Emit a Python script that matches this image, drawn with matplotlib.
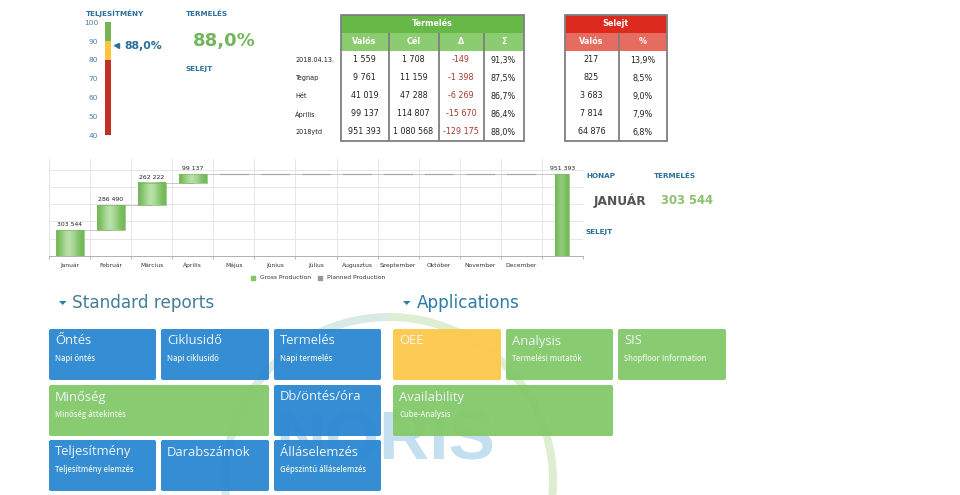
import numpy as np
import matplotlib
matplotlib.use("Agg")
import matplotlib.pyplot as plt
from matplotlib.patches import Rectangle, FancyBboxPatch, Wedge, Polygon

# ---------- data ----------
gauge_bands = [(40, 80), (80, 90), (90, 100)]
gauge_ticks = [40, 50, 60, 70, 80, 90, 100]
gauge_value = 88.0
gauge_text = "88,0%"

row_labels = ["2018.04.13.", "Tegnap", "Hét", "Április", "2018ytd"]
prod_headers = ["Valós", "Cél", "Δ", "Σ"]
prod_actual = ["1 559", "9 761", "41 019", "99 137", "951 393"]
prod_target = ["1 708", "11 159", "47 288", "114 807", "1 080 568"]
prod_delta = ["-149", "-1 398", "-6 269", "-15 670", "-129 175"]
prod_pct = ["91,3%", "87,5%", "86,7%", "86,4%", "88,0%"]
scrap_headers = ["Valós", "%"]
scrap_actual = ["217", "825", "3 683", "7 814", "64 876"]
scrap_pct = ["13,9%", "8,5%", "9,0%", "7,9%", "6,8%"]

months = ["Január", "Február", "Március", "Április", "Május", "Június", "Július",
          "Augusztus", "Szeptember", "Október", "November", "December", ""]
monthly = [303544, 286490, 262222, 99137, 0, 0, 0, 0, 0, 0, 0, 0]
total = 951393
y_grid = [0, 200000, 400000, 600000, 800000, 1000000]

blue, green, yellow = "#2c88d2", "#84c96a", "#fdc94d"
std_tiles = [("Őntés", "Napi öntés", blue, 0, 0, 1), ("Ciklusidő", "Napi ciklusidő", blue, 1, 0, 1),
             ("Termelés", "Napi termelés", blue, 2, 0, 1), ("Minőség", "Minőség áttekintés", green, 0, 1, 2),
             ("Db/öntés/óra", "", blue, 2, 1, 1), ("Teljesítmény", "Teljesítmény elemzés", blue, 0, 2, 1),
             ("Darabszámok", "", blue, 1, 2, 1), ("Álláselemzés", "Gépszintű álláselemzés", blue, 2, 2, 1)]
app_tiles = [("OEE", "", yellow, 0, 0, 1), ("Analysis", "Termelési mutatók", green, 1, 0, 1),
             ("SIS", "Shopfloor Information", green, 2, 0, 1), ("Availability", "Cube-Analysis", green, 0, 1, 2)]

# ---------- canvas ----------
W, H = 960, 495
plt.rcParams["font.family"] = ["DejaVu Sans"]
fig = plt.figure(figsize=(W / 100, H / 100), dpi=100, facecolor="white")
bg = fig.add_axes([0, 0, 1, 1], zorder=0)
bg.set_xlim(0, W); bg.set_ylim(H, 0); bg.axis("off")


def sub_axes(x0, y0, x1, y1, **kw):
    return fig.add_axes([x0 / W, 1 - y1 / H, (x1 - x0) / W, (y1 - y0) / H], **kw)


LABEL = "#2b6f9e"


def label(x, y, s):
    bg.text(x, y, s, color=LABEL, fontsize=5.2, fontweight="bold", va="center")


# ---------- watermark ----------
cx, cy, r = 389, 481, 168
bg.add_patch(Wedge((cx, cy), r, 90, 270, width=8, fc="#d8e9e6", ec="none", zorder=1))
bg.add_patch(Wedge((cx, cy), r, -90, 90, width=8, fc="#deeed3", ec="none", zorder=1))
bg.text(385, 441, "NORIS", color="#c4dff0", fontsize=50, fontweight="bold", ha="center",
        va="center", family="Liberation Sans", zorder=1)

# ---------- gauge ----------
label(86, 13.5, "TELJESÍTMÉNY")
label(186, 13.5, "TERMELÉS")
label(186, 69.5, "SELEJT")
bg.text(193, 41, gauge_text, color="#72b65a", fontsize=13, fontweight="bold", va="center")

ga = sub_axes(105, 22.3, 111, 135.3, zorder=2)
ga.patch.set_alpha(0)
for (lo, hi), c in zip(gauge_bands, ["#c32f25", "#fcc33f", "#72b654"]):
    ga.bar(0.5, hi - lo, bottom=lo, width=1, color=c)
ga.set_xlim(0, 1); ga.set_ylim(40, 100)
ga.set_xticks([]); ga.set_yticks(gauge_ticks)
ga.tick_params(axis="y", length=0, pad=5, labelsize=5.4, labelcolor="#4c7f9f")
for s in ga.spines.values():
    s.set_visible(False)
ga.plot([1.75], [gauge_value], marker="<", ms=3.6, color="#2b6f9e", clip_on=False)
ga.annotate(gauge_text, (1, gauge_value), xytext=(9.4, -1), textcoords="offset points",
            color="#2b6f9e", fontsize=7.8, fontweight="bold", va="center")


# ---------- tables ----------
def table(edges, title, headers, columns, c_top, c_sub, colors=None):
    top, h1, h2, bot = 15, 33, 51, 141
    x0, x1 = edges[0], edges[-1]
    bg.add_patch(Rectangle((x0, top), x1 - x0, h1 - top, fc=c_top, ec="none", zorder=3))
    bg.add_patch(Rectangle((x0, h1), x1 - x0, h2 - h1, fc=c_sub, ec="none", zorder=3))
    bg.text((x0 + x1) / 2, 24, title, color="white", fontsize=5.8, fontweight="bold",
            ha="center", va="center", zorder=5)
    for i, (hd, col) in enumerate(zip(headers, columns)):
        xc = (edges[i] + edges[i + 1]) / 2
        bg.text(xc, 42, hd, color="white", fontsize=5.8, fontweight="bold", ha="center", va="center", zorder=5)
        for j, v in enumerate(col):
            c = colors[i] if colors else "#222222"
            bg.text(xc, 60 + 18 * j, v, color=c, fontsize=5.8, ha="center", va="center", zorder=5)
    for x in edges[1:-1]:
        bg.plot([x, x], [h1, bot], color="#7f7f7f", lw=1.3, zorder=4, solid_capstyle="butt")
    bg.add_patch(Rectangle((x0, top), x1 - x0, bot - top, fc="none", ec="#7f7f7f", lw=1.3, zorder=4))


table([340.5, 388.5, 438.5, 483.5, 523.5], "Termelés", prod_headers,
      [prod_actual, prod_target, prod_delta, prod_pct], "#66b947", "#8ccc70",
      ["#222222", "#222222", "#a8372c", "#222222"])
table([564.5, 618.5, 666.5], "Selejt", scrap_headers, [scrap_actual, scrap_pct], "#dc2a1f", "#e76c60")
for j, s in enumerate(row_labels):
    bg.text(295, 60 + 18 * j, s, color="#222222", fontsize=4.7, va="center")

# ---------- waterfall ----------
wf = sub_axes(49, 159, 583, 255.7, zorder=2)
wf.patch.set_alpha(0)
n = len(months)
cum = np.concatenate([[0], np.cumsum(monthly)])
xs = np.arange(len(monthly)) + 0.5
grad = np.array([[0.0, 0.35, 0.7, 1.0, 0.85, 0.55, 0.2, 0.0]])
cmap = matplotlib.colors.LinearSegmentedColormap.from_list("g", ["#72ba55", "#bde2ad"])
ymax = 1130000
wf.set_xlim(0, n); wf.set_ylim(0, ymax)


def gbar(x, bottom, height, width, g):
    wf.imshow(g, extent=(x - width / 2, x + width / 2, bottom, bottom + height), aspect="auto",
              cmap=cmap, vmin=0, vmax=1, zorder=3, interpolation="bicubic")
    wf.add_patch(Rectangle((x - width / 2, bottom), width, height, fc="none", ec="#7fb56a", lw=0.5, zorder=4))


for x, b, v, t in zip(xs, cum[:-1], monthly, cum[1:]):
    if v > 0:
        gbar(x, b, v, 0.68, grad)
        wf.text(x, t + 35000, f"{v:,}".replace(",", " "), fontsize=4.4, ha="center", va="bottom",
                color="#222222", zorder=5)
    else:
        wf.plot([x - 0.34, x + 0.34], [t, t], color="#a8a8a8", lw=0.9, zorder=3)
    wf.plot([x, x + 1], [t, t], color="#c8c8c8", lw=0.7, zorder=2)
tx = len(monthly) + 0.5
gbar(tx, 0, total, 0.34, np.array([[0.0, 0.3, 0.42, 0.36, 0.15, 0.0]]))
wf.text(tx, total + 35000, f"{total:,}".replace(",", " "), fontsize=4.4, ha="center", va="bottom",
        color="#222222", zorder=5)
wf.set_xlim(0, n); wf.set_ylim(0, ymax)
wf.set_yticks(y_grid); wf.set_yticklabels([])
wf.set_xticks(np.arange(n + 1)); wf.set_xticklabels([])
wf.set_xticks(np.arange(n) + 0.5, labels=months, minor=True)
wf.grid(True, which="major", color="#e6e6e6", lw=0.7)
wf.set_axisbelow(True)
wf.tick_params(axis="y", length=0)
wf.tick_params(axis="x", which="major", length=2.2, width=0.5, color="#999999")
wf.tick_params(axis="x", which="minor", length=0, pad=8.2, labelsize=4.35, labelcolor="#333333")
for t in wf.get_xticklabels(minor=True):
    t.set_verticalalignment("baseline")
for k, s in wf.spines.items():
    s.set_visible(k == "bottom")
    s.set_color("#b0b0b0"); s.set_linewidth(0.7)
h1 = wf.scatter([], [], marker="s", s=5, color="#86c46c", label="Gross Production")
h2 = wf.scatter([], [], marker="s", s=5, color="#9a9a9a", label="Planned Production")
wf.legend(handles=[h1, h2], ncol=2, frameon=False, fontsize=4.35, loc="upper center",
          bbox_to_anchor=(0.5, -0.2), handletextpad=0.1, columnspacing=0.5, labelcolor="#333333",
          borderpad=0, borderaxespad=0)

label(586, 176, "HÓNAP")
label(654, 176, "TERMELÉS")
label(586, 232, "SELEJT")
bg.text(594, 201, "JANUÁR", color="#555555", fontsize=8.8, fontweight="bold", va="center")
bg.text(661, 201, "303 544", color="#8cc070", fontsize=8.4, fontweight="bold", va="center")

# ---------- tiles ----------
bg.add_patch(Polygon([[59, 301], [66.5, 301], [62.75, 305]], fc="#2a7cab", ec="none", zorder=5))
bg.text(72.5, 303, "Standard reports", color="#437f97", fontsize=12.2, va="center", zorder=5)
bg.add_patch(Polygon([[403, 301], [410.5, 301], [406.75, 305]], fc="#2a7cab", ec="none", zorder=5))
bg.text(417, 303, "Applications", color="#2d7aa8", fontsize=12.2, va="center", zorder=5)


def tiles(spec, xcols, widths):
    ys = [(329, 380), (385, 436), (440, 491)]
    for name, sub, color, col, row, span in spec:
        x0 = xcols[col]
        x1 = xcols[col + span - 1] + widths[col + span - 1]
        y0, y1 = ys[row]
        bg.add_patch(FancyBboxPatch((x0 + 1.5, y0 + 1.5), x1 - x0 - 3, y1 - y0 - 3,
                                    boxstyle="round,pad=1.5,rounding_size=2", fc=color, ec="none",
                                    alpha=0.96, zorder=3))
        bg.text(x0 + 6, y0 + 12, name, color="#eef6fb", fontsize=9.4, family="Open Sans", va="center", zorder=5)
        if sub:
            bg.text(x0 + 6, y0 + 29.5, sub, color="#eaf5ea", fontsize=5.5, family="Open Sans",
                    fontweight="semibold", va="center", zorder=5)


tiles(std_tiles, [49, 161, 274], [107, 108, 107])
tiles(app_tiles, [393, 506, 618], [108, 107, 108])

fig.savefig("out.png", dpi=100, facecolor="white")
